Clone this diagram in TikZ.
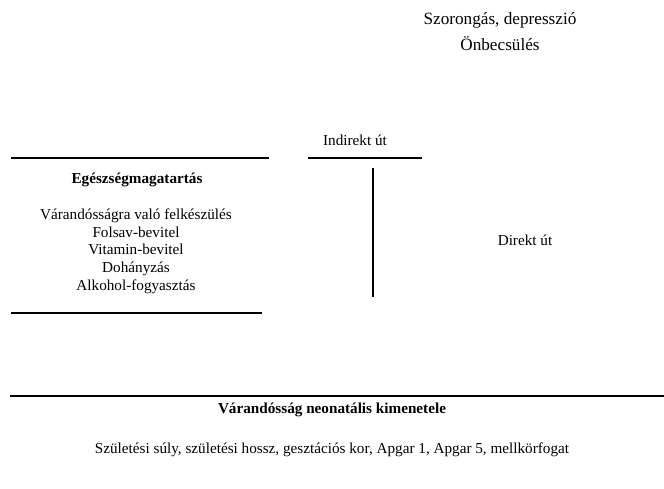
\documentclass[tikz,border=0pt]{standalone}
\usepackage{fontspec}
\setmainfont{Liberation Serif}
\begin{document}
\begin{tikzpicture}[x=1pt,y=-1pt,
  rule/.style={line width=1.4pt},
  lbl/.style={inner sep=0pt,font=\fontsize{15.2}{17.7}\selectfont,align=center},
  big/.style={inner sep=0pt,font=\fontsize{17.2}{26}\selectfont,align=center}]
\useasboundingbox (0,0) rectangle (664,489);
% labels
\node[big] (affect) at (500,32) {Szorongás, depresszió\\Önbecsülés};
\node[lbl] (indirect) at (355,140) {Indirekt út};
\node[lbl] (behav) at (137,180) {\textbf{Egészségmagatartás}};
\node[lbl] (items) at (136,251) {Várandósságra való felkészülés\\Folsav-bevitel\\Vitamin-bevitel\\Dohányzás\\Alkohol-fogyasztás};
\node[lbl] (direct) at (525,240) {Direkt út};
\node[lbl] (outcome) at (332,410) {\textbf{Várandósság neonatális kimenetele}};
\node[lbl] (measures) at (332,450) {Születési súly, születési hossz, gesztációs kor, Apgar 1, Apgar 5, mellkörfogat};
% rules
\coordinate (r1a) at (11,158); \coordinate (r1b) at (269,158);
\coordinate (r2a) at (308,158); \coordinate (r2b) at (422,158);
\coordinate (v1a) at (373,168); \coordinate (v1b) at (373,297);
\coordinate (r3a) at (11,313); \coordinate (r3b) at (262,313);
\coordinate (r4a) at (10,396); \coordinate (r4b) at (664,396);
\draw[rule] (r1a) -- (r1b);
\draw[rule] (r2a) -- (r2b);
\draw[rule] (v1a) -- (v1b);
\draw[rule] (r3a) -- (r3b);
\draw[rule] (r4a) -- (r4b);
\end{tikzpicture}
\end{document}
